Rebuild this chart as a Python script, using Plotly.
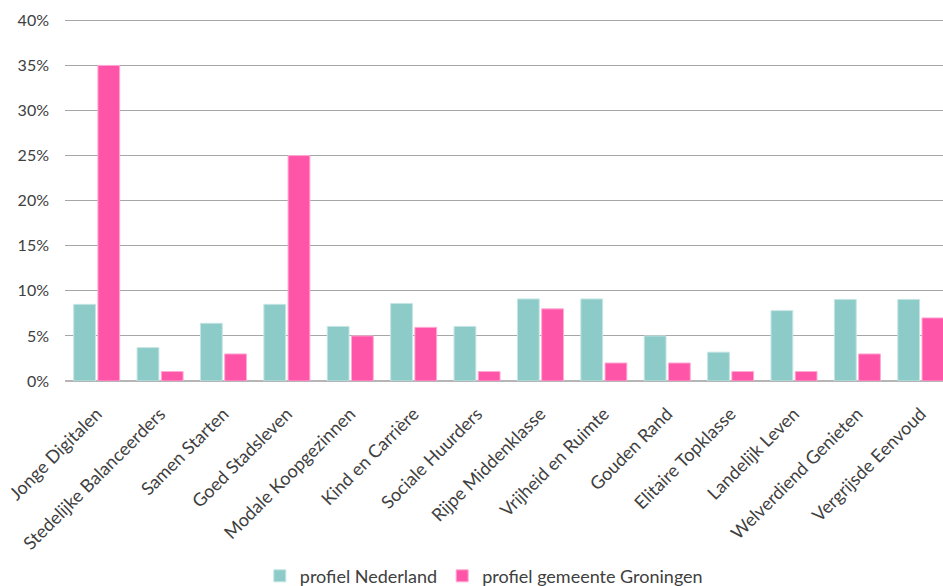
import plotly.graph_objects as go

categories = ["Jonge Digitalen", "Stedelijke Balanceerders", "Samen Starten", "Goed Stadsleven",
              "Modale Koopgezinnen", "Kind en Carrière", "Sociale Huurders", "Rijpe Middenklasse",
              "Vrijheid en Ruimte", "Gouden Rand", "Elitaire Topklasse", "Landelijk Leven",
              "Welverdiend Genieten", "Vergrijsde Eenvoud"]
nederland = [8.5, 3.7, 6.4, 8.5, 6.05, 8.6, 6.05, 9.1, 9.1, 5.0, 3.2, 7.8, 9.05, 9.05]
groningen = [35.0, 1.05, 3.0, 25.0, 5.0, 5.95, 1.05, 8.0, 2.0, 2.0, 1.05, 1.05, 3.0, 7.0]
y_ticks = [0, 5, 10, 15, 20, 25, 30, 35, 40]
y_labels = ["0%", "5%", "10%", "15%", "20%", "25%", "30%", "35%", "40%"]

font = "Lato, 'Open Sans', sans-serif"
fig = go.Figure()
fig.add_trace(go.Bar(x=categories, y=nederland, name="profiel Nederland",
                     marker=dict(color="#8ccbc8", line=dict(color="#c4e5e3", width=1))))
fig.add_trace(go.Bar(x=categories, y=groningen, name="profiel gemeente Groningen",
                     marker=dict(color="#ff55a8", line=dict(color="#ffaad4", width=1))))

fig.update_layout(
    width=943, height=586,
    margin=dict(l=65, r=0, t=19, b=204.5, autoexpand=False),
    plot_bgcolor="white", paper_bgcolor="white",
    barmode="group", bargap=0.236, bargroupgap=0.1,
    font=dict(family=font, size=18, color="#404040"),
    showlegend=True,
    legend=dict(orientation="h", x=0.477, xanchor="center", y=-0.539, yanchor="middle",
                font=dict(size=18, color="#404040"), itemwidth=30, traceorder="normal"),
)
fig.update_xaxes(range=[-0.5, 13.35], tickangle=-45, showgrid=False, showline=False,
                 ticks="", tickfont=dict(size=18, color="#404040"), automargin=False,
                 ticklabelstandoff=18)
fig.update_yaxes(range=[0, 40.15], tickvals=y_ticks, ticktext=y_labels, showgrid=True,
                 gridcolor="#a6a6a6", gridwidth=1, zeroline=True, zerolinecolor="#b5b5b5",
                 zerolinewidth=1.5, ticks="", ticklabelstandoff=15, automargin=False,
                 tickfont=dict(size=16, color="#404040"))

fig.write_html(
    "out.html",
    config={"displayModeBar": False},
    post_script="document.body.style.margin='0';"
                "document.documentElement.style.overflow='hidden';",
)
